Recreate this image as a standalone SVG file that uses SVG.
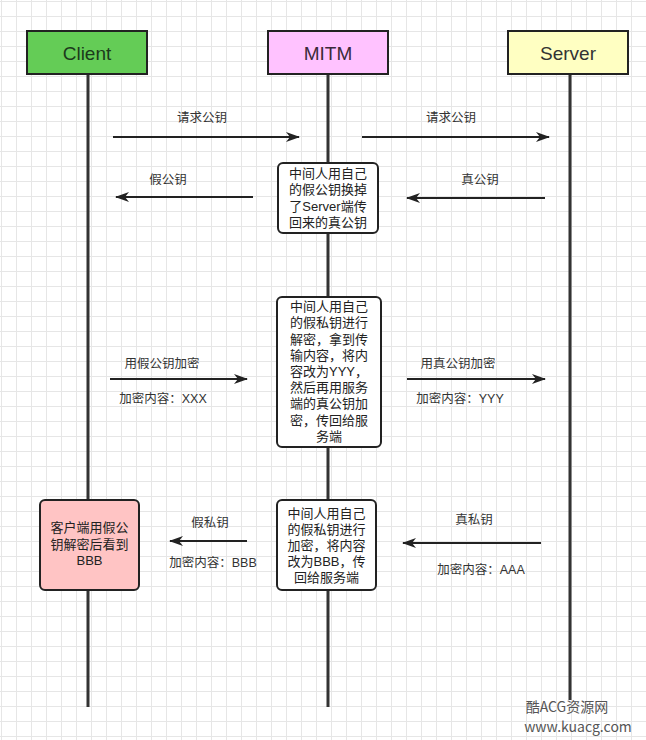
<svg xmlns="http://www.w3.org/2000/svg" width="646" height="740" viewBox="0 0 646 740">
<defs>
<pattern id="grid" x="1" y="1" width="15" height="15" patternUnits="userSpaceOnUse">
<path d="M0 0.5 H15 M0.5 0 V15" stroke="#e6e6e6" stroke-width="1" fill="none"/>
</pattern>
<marker id="arr" viewBox="0 0 14 10" refX="13" refY="5" markerWidth="14" markerHeight="10" markerUnits="userSpaceOnUse" orient="auto">
<path d="M0,0 L14,5 L0,10 L4,5 Z" fill="#222"/>
</marker>
</defs>
<style>
.hdr{stroke:#222;stroke-width:2}
.hdrt{font-family:"Liberation Sans","Noto Sans CJK SC",sans-serif;font-size:19px;text-anchor:middle;dominant-baseline:central}
.life{stroke:#333;stroke-width:3}
.note{stroke:#222;stroke-width:2}
.nt{font-family:"Liberation Sans","Noto Sans CJK SC",sans-serif;font-size:13px;fill:#222;text-anchor:middle;dominant-baseline:central}
.lbl{font-family:"Liberation Sans","Noto Sans CJK SC",sans-serif;font-size:12.5px;fill:#333;text-anchor:middle;dominant-baseline:central}
.msg{stroke:#222;stroke-width:2;fill:none;marker-end:url(#arr)}
.wm{font-family:"Noto Sans CJK SC",sans-serif;fill:#555;text-anchor:middle;dominant-baseline:central}
</style>
<rect width="646" height="740" fill="#fff"/>
<rect width="646" height="740" fill="url(#grid)"/>

<g id="lifelines">
<line class="life" x1="88" y1="74" x2="88" y2="707"/>
<line class="life" x1="328" y1="74" x2="328" y2="707"/>
<line class="life" x1="570" y1="74" x2="570" y2="700"/>
</g>

<g id="client">
<rect class="hdr" x="27" y="31" width="120" height="43" fill="#64cc56"/>
<text class="hdrt" x="87" y="53" fill="#1c3a1c">Client</text>
</g>
<g id="mitm">
<rect class="hdr" x="268" y="31" width="120" height="43" fill="#ffc2ff"/>
<text class="hdrt" x="328" y="53" fill="#3a2a3a">MITM</text>
</g>
<g id="server">
<rect class="hdr" x="508" y="31" width="120" height="43" fill="#ffffc2"/>
<text class="hdrt" x="568" y="53" fill="#333">Server</text>
</g>

<g id="connectors">
<line class="msg" x1="113" y1="137" x2="299" y2="137"/>
<line class="msg" x1="362" y1="137" x2="549" y2="137"/>
<line class="msg" x1="253" y1="197" x2="116" y2="197"/>
<line class="msg" x1="545" y1="198" x2="407" y2="198"/>
<line class="msg" x1="110" y1="379" x2="247" y2="379"/>
<line class="msg" x1="407" y1="379" x2="545" y2="379"/>
<line class="msg" x1="247" y1="541" x2="170" y2="541"/>
<line class="msg" x1="541" y1="543" x2="403" y2="543"/>
</g>

<g id="labels">
<text class="lbl" x="202" y="118">请求公钥</text>
<text class="lbl" x="451" y="118">请求公钥</text>
<text class="lbl" x="168" y="180">假公钥</text>
<text class="lbl" x="480" y="180">真公钥</text>
<text class="lbl" x="162" y="364">用假公钥加密</text>
<text class="lbl" x="163" y="399">加密内容：XXX</text>
<text class="lbl" x="458" y="364">用真公钥加密</text>
<text class="lbl" x="460" y="399">加密内容：YYY</text>
<text class="lbl" x="210" y="523">假私钥</text>
<text class="lbl" x="213" y="563">加密内容：BBB</text>
<text class="lbl" x="474" y="520">真私钥</text>
<text class="lbl" x="481" y="570">加密内容：AAA</text>
</g>

<g id="note1">
<rect class="note" x="278" y="163" width="100" height="70" rx="5" fill="#fff"/>
<text class="nt" x="328" y="173">中间人用自己</text>
<text class="nt" x="328" y="189.5">的假公钥换掉</text>
<text class="nt" x="328" y="206">了Server端传</text>
<text class="nt" x="328" y="222.5">回来的真公钥</text>
</g>

<g id="note2">
<rect class="note" x="277" y="297" width="104" height="150" rx="5" fill="#fff"/>
<text class="nt" x="329" y="306.7">中间人用自己</text>
<text class="nt" x="329" y="322.9">的假私钥进行</text>
<text class="nt" x="329" y="339.1">解密，拿到传</text>
<text class="nt" x="329" y="355.3">输内容，将内</text>
<text class="nt" x="329" y="371.5">容改为YYY，</text>
<text class="nt" x="329" y="387.7">然后再用服务</text>
<text class="nt" x="329" y="403.9">端的真公钥加</text>
<text class="nt" x="329" y="420.1">密，传回给服</text>
<text class="nt" x="329" y="436.3">务端</text>
</g>

<g id="note3">
<rect class="note" x="277" y="500" width="99" height="90" rx="5" fill="#fff"/>
<text class="nt" x="326.5" y="513">中间人用自己</text>
<text class="nt" x="326.5" y="529">的假私钥进行</text>
<text class="nt" x="326.5" y="545">加密，将内容</text>
<text class="nt" x="326.5" y="561">改为BBB，传</text>
<text class="nt" x="326.5" y="577">回给服务端</text>
</g>

<g id="note4">
<rect class="note" x="40" y="500" width="99" height="90" rx="5" fill="#ffc4c4"/>
<text class="nt" x="89.5" y="527.5">客户端用假公</text>
<text class="nt" x="89.5" y="544">钥解密后看到</text>
<text class="nt" x="89.5" y="560.5">BBB</text>
</g>

<g id="watermark">
<text class="wm" x="567" y="706" font-size="14">酷ACG资源网</text>
<text class="wm" x="578" y="726" font-size="14">www.kuacg.com</text>
</g>
</svg>
